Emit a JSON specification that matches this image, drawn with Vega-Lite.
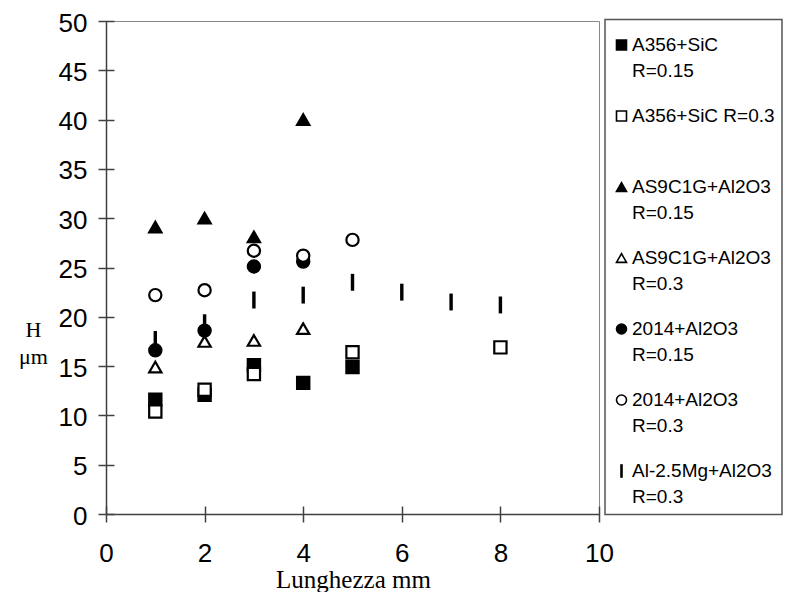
{
  "$schema": "https://vega.github.io/schema/vega-lite/v6.json",
  "width": 493,
  "height": 493,
  "autosize": "none",
  "padding": {"left": 106, "top": 21, "right": 189, "bottom": 78},
  "background": "white",
  "config": {
    "view": {"stroke": "#888888", "strokeWidth": 1},
    "font": "Liberation Sans"
  },
  "data": {
    "values": [
      {"series": "A356+SiC R=0.15", "x": 1, "y": 11.6},
      {"series": "A356+SiC R=0.15", "x": 2, "y": 12.1},
      {"series": "A356+SiC R=0.15", "x": 3, "y": 15.1},
      {"series": "A356+SiC R=0.15", "x": 4, "y": 13.3},
      {"series": "A356+SiC R=0.15", "x": 5, "y": 14.9},
      {"series": "A356+SiC R=0.3", "x": 1, "y": 10.4},
      {"series": "A356+SiC R=0.3", "x": 2, "y": 12.6},
      {"series": "A356+SiC R=0.3", "x": 3, "y": 14.2},
      {"series": "A356+SiC R=0.3", "x": 5, "y": 16.4},
      {"series": "A356+SiC R=0.3", "x": 8, "y": 16.9},
      {"series": "AS9C1G+Al2O3 R=0.15", "x": 1, "y": 29.1},
      {"series": "AS9C1G+Al2O3 R=0.15", "x": 2, "y": 30.0},
      {"series": "AS9C1G+Al2O3 R=0.15", "x": 3, "y": 28.1},
      {"series": "AS9C1G+Al2O3 R=0.15", "x": 4, "y": 40.0},
      {"series": "AS9C1G+Al2O3 R=0.3", "x": 1, "y": 14.9},
      {"series": "AS9C1G+Al2O3 R=0.3", "x": 2, "y": 17.5},
      {"series": "AS9C1G+Al2O3 R=0.3", "x": 3, "y": 17.6},
      {"series": "AS9C1G+Al2O3 R=0.3", "x": 4, "y": 18.8},
      {"series": "2014+Al2O3 R=0.15", "x": 1, "y": 16.6},
      {"series": "2014+Al2O3 R=0.15", "x": 2, "y": 18.6},
      {"series": "2014+Al2O3 R=0.15", "x": 3, "y": 25.1},
      {"series": "2014+Al2O3 R=0.15", "x": 4, "y": 25.6},
      {"series": "2014+Al2O3 R=0.3", "x": 1, "y": 22.2},
      {"series": "2014+Al2O3 R=0.3", "x": 2, "y": 22.7},
      {"series": "2014+Al2O3 R=0.3", "x": 3, "y": 26.7},
      {"series": "2014+Al2O3 R=0.3", "x": 4, "y": 26.2},
      {"series": "2014+Al2O3 R=0.3", "x": 5, "y": 27.8},
      {"series": "Al-2.5Mg+Al2O3 R=0.3", "x": 1, "y": 17.7},
      {"series": "Al-2.5Mg+Al2O3 R=0.3", "x": 2, "y": 19.4},
      {"series": "Al-2.5Mg+Al2O3 R=0.3", "x": 3, "y": 21.7},
      {"series": "Al-2.5Mg+Al2O3 R=0.3", "x": 4, "y": 22.2},
      {"series": "Al-2.5Mg+Al2O3 R=0.3", "x": 5, "y": 23.5},
      {"series": "Al-2.5Mg+Al2O3 R=0.3", "x": 6, "y": 22.5},
      {"series": "Al-2.5Mg+Al2O3 R=0.3", "x": 7, "y": 21.5},
      {"series": "Al-2.5Mg+Al2O3 R=0.3", "x": 8, "y": 21.2}
    ]
  },
  "mark": {"type": "point", "stroke": "black", "strokeWidth": 2.2, "size": 150, "opacity": 1},
  "encoding": {
    "x": {
      "field": "x",
      "type": "quantitative",
      "scale": {"domain": [0, 10], "nice": false, "zero": true},
      "axis": {
        "values": [0, 2, 4, 6, 8, 10],
        "grid": false,
        "domainColor": "#404040",
        "domainWidth": 1.5,
        "tickColor": "#404040",
        "tickWidth": 1.5,
        "tickSize": 8,
        "labelFont": "Liberation Sans",
        "labelFontSize": 26,
        "labelColor": "black",
        "labelPadding": 18,
        "labelFlush": false,
        "labelOverlap": false,
        "title": "Lunghezza mm",
        "titleFont": "Liberation Serif",
        "titleFontSize": 25,
        "titleFontWeight": "normal",
        "titleColor": "black",
        "titleX": 247,
        "titleY": 73,
        "titleAlign": "center",
        "titleBaseline": "alphabetic",
        "encoding": {"ticks": {"y": {"value": -8}, "y2": {"value": 8}}}
      }
    },
    "y": {
      "field": "y",
      "type": "quantitative",
      "scale": {"domain": [0, 50], "nice": false},
      "axis": {
        "values": [0, 5, 10, 15, 20, 25, 30, 35, 40, 45, 50],
        "grid": false,
        "domainColor": "#404040",
        "domainWidth": 1.5,
        "tickColor": "#404040",
        "tickWidth": 1.5,
        "tickSize": 8,
        "labelFont": "Liberation Sans",
        "labelFontSize": 26,
        "labelColor": "black",
        "labelPadding": 11,
        "labelFlush": false,
        "labelOverlap": false,
        "labelBaseline": "middle",
        "labelOffset": 2,
        "title": ["H", "μm"],
        "titleFont": "Liberation Serif",
        "titleFontSize": 22,
        "titleFontWeight": "normal",
        "titleColor": "black",
        "titleAngle": 0,
        "titleX": -73,
        "titleY": 308,
        "titleAlign": "center",
        "titleBaseline": "middle",
        "titleLineHeight": 27,
        "encoding": {"ticks": {"x": {"value": 8}, "x2": {"value": -8}}}
      }
    },
    "shape": {
      "field": "series",
      "type": "nominal",
      "sort": null,
      "scale": {
        "domain": ["A356+SiC R=0.15", "A356+SiC R=0.3", "AS9C1G+Al2O3 R=0.15", "AS9C1G+Al2O3 R=0.3", "2014+Al2O3 R=0.15", "2014+Al2O3 R=0.3", "Al-2.5Mg+Al2O3 R=0.3"],
        "range": ["square", "square", "triangle-up", "triangle-up", "circle", "circle", "M-0.1,-1.2H0.1V1.2H-0.1Z"]
      },
      "legend": {
        "title": " ",
        "titleFontSize": 6,
        "titlePadding": 3,
        "orient": "none",
        "legendX": 499,
        "legendY": -1.5,
        "strokeColor": "#555555",
        "padding": 7,
        "rowPadding": 25,
        "symbolSize": 100,
        "symbolStrokeWidth": 1.6,
        "symbolStrokeColor": "black",
        "labelFont": "Liberation Sans",
        "labelFontSize": 19,
        "labelColor": "black",
        "labelOffset": 1,
        "labelLimit": 400,
        "labelBaseline": "alphabetic",
        "labelExpr": "datum.label == 'A356+SiC R=0.3' ? ['A356+SiC R=0.3', ' '] : split(datum.label, ' ')",
        "encoding": {
          "labels": {"lineHeight": {"value": 26}, "dy": {"value": 6}},
          "symbols": {"stroke": {"value": "black"}, "strokeWidth": {"value": 1.6}},
          "legend": {"strokeWidth": {"value": 1.5}}
        }
      }
    },
    "fill": {
      "field": "series",
      "type": "nominal",
      "sort": null,
      "scale": {
        "domain": ["A356+SiC R=0.15", "A356+SiC R=0.3", "AS9C1G+Al2O3 R=0.15", "AS9C1G+Al2O3 R=0.3", "2014+Al2O3 R=0.15", "2014+Al2O3 R=0.3", "Al-2.5Mg+Al2O3 R=0.3"],
        "range": ["black", "white", "black", "white", "black", "white", "black"]
      },
      "legend": {
        "title": " ",
        "titleFontSize": 6,
        "titlePadding": 3,
        "orient": "none",
        "legendX": 499,
        "legendY": -1.5,
        "strokeColor": "#555555",
        "padding": 7,
        "rowPadding": 25,
        "symbolSize": 100,
        "symbolStrokeWidth": 1.6,
        "symbolStrokeColor": "black",
        "labelFont": "Liberation Sans",
        "labelFontSize": 19,
        "labelColor": "black",
        "labelOffset": 1,
        "labelLimit": 400,
        "labelBaseline": "alphabetic",
        "labelExpr": "datum.label == 'A356+SiC R=0.3' ? ['A356+SiC R=0.3', ' '] : split(datum.label, ' ')",
        "encoding": {
          "labels": {"lineHeight": {"value": 26}, "dy": {"value": 6}},
          "symbols": {"stroke": {"value": "black"}, "strokeWidth": {"value": 1.6}},
          "legend": {"strokeWidth": {"value": 1.5}}
        }
      }
    }
  }
}
